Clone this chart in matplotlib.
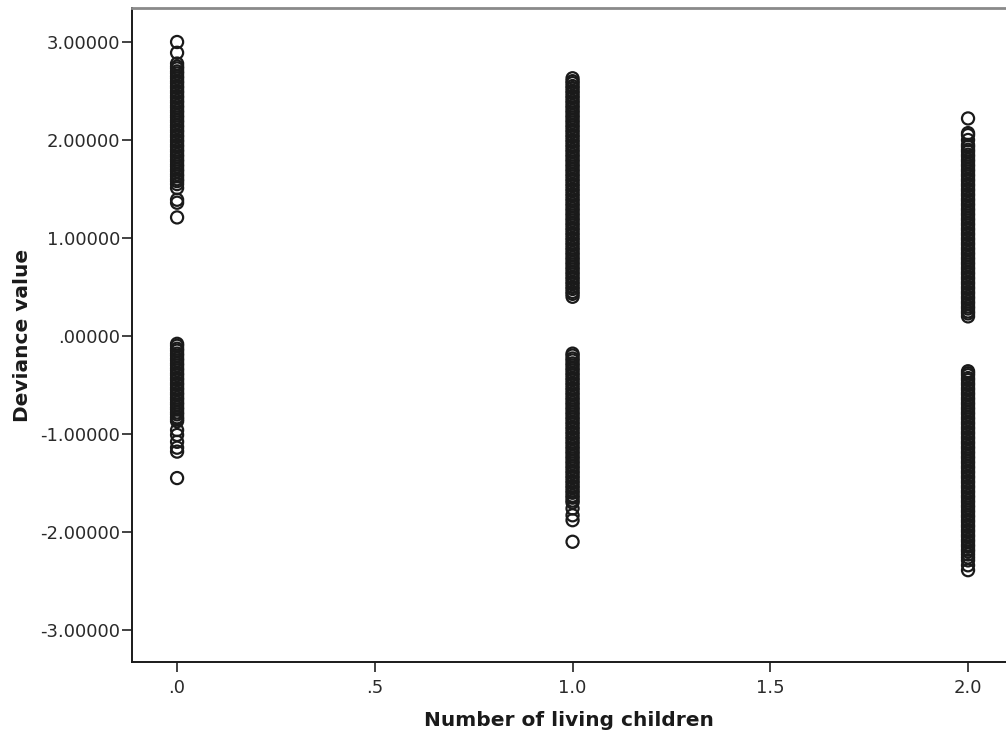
import matplotlib
matplotlib.use("Agg")
import matplotlib.pyplot as plt

# x categories (Number of living children)
children = [0.0, 1.0, 2.0]

# Deviance values, one list per column
dev_0 = [3.00, 2.89, 2.78, 2.75, 2.73, 2.70, 2.68, 2.65, 2.63, 2.60, 2.58, 2.55,
         2.53, 2.50, 2.48, 2.45, 2.43, 2.40, 2.38, 2.35, 2.33, 2.30, 2.28, 2.25,
         2.23, 2.20, 2.18, 2.15, 2.13, 2.10, 2.08, 2.05, 2.03, 2.00, 1.98, 1.95,
         1.93, 1.90, 1.88, 1.85, 1.83, 1.80, 1.78, 1.75, 1.73, 1.70, 1.68, 1.65,
         1.63, 1.60, 1.58, 1.55, 1.51, 1.39, 1.36, 1.21,
         -0.08, -0.10, -0.13, -0.15, -0.18, -0.20, -0.23, -0.25, -0.28, -0.30,
         -0.33, -0.35, -0.38, -0.40, -0.43, -0.45, -0.48, -0.50, -0.53, -0.55,
         -0.58, -0.60, -0.63, -0.65, -0.68, -0.70, -0.73, -0.75, -0.78, -0.80,
         -0.83, -0.85, -0.87, -0.96, -1.01, -1.08, -1.14, -1.18, -1.45]

dev_1 = [2.63, 2.60, 2.58, 2.55, 2.53, 2.50, 2.48, 2.45, 2.43, 2.40, 2.38, 2.35,
         2.33, 2.30, 2.28, 2.25, 2.23, 2.20, 2.18, 2.15, 2.13, 2.10, 2.08, 2.05,
         2.03, 2.00, 1.98, 1.95, 1.93, 1.90, 1.88, 1.85, 1.83, 1.80, 1.78, 1.75,
         1.73, 1.70, 1.68, 1.65, 1.63, 1.60, 1.58, 1.55, 1.53, 1.50, 1.48, 1.45,
         1.43, 1.40, 1.38, 1.35, 1.33, 1.30, 1.28, 1.25, 1.23, 1.20, 1.18, 1.15,
         1.13, 1.10, 1.08, 1.05, 1.03, 1.00, 0.98, 0.95, 0.93, 0.90, 0.88, 0.85,
         0.83, 0.80, 0.78, 0.75, 0.73, 0.70, 0.68, 0.65, 0.63, 0.60, 0.58, 0.55,
         0.53, 0.50, 0.48, 0.45, 0.43, 0.40,
         -0.18, -0.20, -0.23, -0.25, -0.28, -0.30, -0.33, -0.35, -0.38, -0.40,
         -0.43, -0.45, -0.48, -0.50, -0.53, -0.55, -0.58, -0.60, -0.63, -0.65,
         -0.68, -0.70, -0.73, -0.75, -0.78, -0.80, -0.83, -0.85, -0.88, -0.90,
         -0.93, -0.95, -0.98, -1.00, -1.03, -1.05, -1.08, -1.10, -1.13, -1.15,
         -1.18, -1.20, -1.23, -1.25, -1.28, -1.30, -1.33, -1.35, -1.38, -1.40,
         -1.43, -1.45, -1.48, -1.50, -1.53, -1.55, -1.58, -1.60, -1.63, -1.65,
         -1.68, -1.70, -1.76, -1.83, -1.88, -2.10]

dev_2 = [2.22, 2.07, 2.05, 2.00, 1.95, 1.93, 1.90, 1.88, 1.85, 1.83, 1.80, 1.78,
         1.75, 1.73, 1.70, 1.68, 1.65, 1.63, 1.60, 1.58, 1.55, 1.53, 1.50, 1.48,
         1.45, 1.43, 1.40, 1.38, 1.35, 1.33, 1.30, 1.28, 1.25, 1.23, 1.20, 1.18,
         1.15, 1.13, 1.10, 1.08, 1.05, 1.03, 1.00, 0.98, 0.95, 0.93, 0.90, 0.88,
         0.85, 0.83, 0.80, 0.78, 0.75, 0.73, 0.70, 0.68, 0.65, 0.63, 0.60, 0.58,
         0.55, 0.53, 0.50, 0.48, 0.45, 0.43, 0.40, 0.38, 0.35, 0.33, 0.30, 0.28,
         0.25, 0.23, 0.20,
         -0.36, -0.38, -0.40, -0.43, -0.45, -0.48, -0.50, -0.53, -0.55, -0.58,
         -0.60, -0.63, -0.65, -0.68, -0.70, -0.73, -0.75, -0.78, -0.80, -0.83,
         -0.85, -0.88, -0.90, -0.93, -0.95, -0.98, -1.00, -1.03, -1.05, -1.08,
         -1.10, -1.13, -1.15, -1.18, -1.20, -1.23, -1.25, -1.28, -1.30, -1.33,
         -1.35, -1.38, -1.40, -1.43, -1.45, -1.48, -1.50, -1.53, -1.55, -1.58,
         -1.60, -1.63, -1.65, -1.68, -1.70, -1.73, -1.75, -1.78, -1.80, -1.83,
         -1.85, -1.88, -1.90, -1.93, -1.95, -1.98, -2.00, -2.03, -2.05, -2.08,
         -2.10, -2.13, -2.15, -2.18, -2.20, -2.23, -2.26, -2.29, -2.34, -2.39]

deviance = [dev_0, dev_1, dev_2]

x_ticks = [0.0, 0.5, 1.0, 1.5, 2.0]
x_tick_labels = [".0", ".5", "1.0", "1.5", "2.0"]
y_ticks = [3, 2, 1, 0, -1, -2, -3]
y_tick_labels = ["3.00000", "2.00000", "1.00000", ".00000", "-1.00000",
                 "-2.00000", "-3.00000"]

plt.rcParams['font.family'] = ['DejaVu Sans']

W, H = 1006, 737
fig = plt.figure(figsize=(W / 100, H / 100), dpi=100)
left_px, right_px, top_px, bottom_px = 132, 1006, 8, 662
ax = fig.add_axes([left_px / W, 1 - bottom_px / H,
                   (right_px - left_px) / W, (bottom_px - top_px) / H])

for xv, ys in zip(children, deviance):
    ax.scatter([xv] * len(ys), ys, s=76, facecolors='none',
               edgecolors='#1a1a1a', linewidths=1.6, zorder=3)

ax.set_xlim(-0.114, 2.096)
ax.set_ylim(-3.327, 3.347)

ax.set_xticks(x_ticks)
ax.set_xticklabels(x_tick_labels)
ax.set_yticks(y_ticks)
ax.set_yticklabels(y_tick_labels)

ax.tick_params(axis='both', direction='out', colors='#222222', labelcolor='#2a2a2a')
ax.tick_params(axis='y', length=7, width=1.2, pad=1.5, labelsize=13)
ax.tick_params(axis='x', length=7, width=1.2, pad=5, labelsize=13)

for side in ['left', 'bottom']:
    ax.spines[side].set_color('#1a1a1a')
    ax.spines[side].set_linewidth(1.4)
ax.spines['top'].set_color('#8a8a8a')
ax.spines['top'].set_linewidth(2.0)
ax.spines['right'].set_visible(False)

ax.set_xlabel("Number of living children", fontsize=14.5, fontweight='bold',
              color='#1a1a1a', labelpad=10)
ax.set_ylabel("Deviance value", fontsize=14.5, fontweight='bold',
              color='#1a1a1a', labelpad=6)

fig.savefig("out.png", dpi=100)
